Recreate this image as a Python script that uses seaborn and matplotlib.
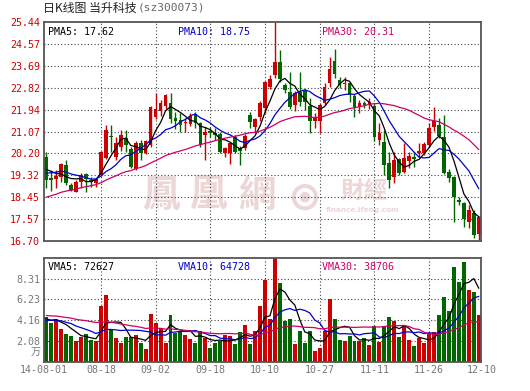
import numpy as np
import pandas as pd
import matplotlib
matplotlib.use("Agg")
import matplotlib.pyplot as plt
import matplotlib.patches as mpatches
import seaborn as sns

# daily candles 2014-08-01 .. 2014-12-10 (88 trading days)
open_ = [20.05, 19.20, 19.17, 19.24, 19.73, 18.94, 18.67, 19.07, 19.37, 19.13,
         19.00, 19.34, 20.00, 20.90, 20.07, 20.47, 20.80, 20.36, 19.56, 20.60,
         20.23, 20.53, 21.66, 21.90, 22.09, 22.22, 21.62, 21.53, 21.40, 21.37,
         21.73, 21.40, 20.93, 21.09, 21.03, 20.96, 20.23, 20.22, 20.86, 20.40,
         20.40, 21.73, 21.24, 21.66, 22.00, 22.86, 23.33, 23.86, 22.93, 22.66,
         22.13, 22.66, 22.72, 22.10, 21.49, 21.49, 22.19, 22.99, 23.88, 23.12,
         22.95, 22.99, 22.49, 22.06, 22.22, 22.13, 22.09, 20.73, 20.66, 19.80,
         19.24, 19.96, 19.47, 19.91, 20.04, 20.23, 20.23, 20.53, 21.24, 21.33,
         20.84, 19.47, 19.27, 18.34, 18.23, 17.47, 17.80, 16.98]
high = [20.26, 19.55, 19.52, 19.82, 19.95, 19.00, 19.12, 19.40, 19.42, 19.27,
        19.20, 20.30, 21.33, 21.33, 20.85, 21.13, 21.13, 20.45, 20.68, 20.73,
        20.75, 22.09, 22.62, 22.32, 22.56, 22.60, 21.86, 21.80, 21.60, 21.80,
        21.86, 21.43, 21.26, 21.26, 21.20, 21.06, 20.46, 20.66, 20.92, 20.50,
        20.98, 21.86, 21.62, 22.30, 23.10, 23.33, 25.44, 24.33, 23.00, 23.46,
        22.70, 23.46, 22.75, 22.39, 21.79, 22.19, 22.99, 24.05, 24.35, 23.26,
        23.26, 23.06, 22.55, 22.32, 22.30, 22.39, 22.15, 21.40, 21.13, 20.27,
        20.27, 20.00, 20.60, 20.27, 20.27, 20.60, 20.66, 21.40, 22.06, 21.60,
        21.73, 19.56, 19.30, 18.45, 18.25, 18.14, 17.94, 17.70]
low = [18.80, 18.70, 18.80, 19.05, 18.95, 18.68, 18.65, 18.82, 18.65, 18.86,
       18.85, 19.28, 19.98, 20.27, 19.95, 20.30, 20.27, 19.60, 19.54, 19.95,
       20.18, 20.45, 21.55, 21.70, 21.98, 21.40, 21.16, 21.06, 21.06, 21.30,
       21.20, 20.46, 19.93, 20.85, 20.75, 20.22, 20.07, 19.77, 20.20, 19.73,
       20.33, 21.20, 21.00, 21.50, 21.80, 22.75, 23.20, 23.05, 22.60, 21.95,
       21.90, 22.10, 21.92, 21.02, 21.20, 21.02, 22.13, 22.86, 23.20, 22.80,
       22.72, 22.26, 21.66, 21.79, 22.00, 21.95, 20.70, 20.53, 19.33, 18.80,
       19.02, 19.35, 19.40, 19.60, 19.66, 20.05, 20.15, 20.45, 21.10, 20.80,
       19.38, 19.06, 17.47, 18.15, 17.27, 17.20, 16.81, 16.74]
close = [19.13, 19.13, 19.30, 19.76, 19.03, 18.74, 19.07, 19.34, 19.17, 19.04,
         19.16, 20.27, 21.13, 20.84, 20.60, 20.93, 20.53, 19.67, 20.60, 20.20,
         20.70, 22.06, 21.95, 22.22, 22.53, 21.56, 21.50, 21.33, 21.46, 21.69,
         21.40, 20.53, 21.06, 21.00, 20.95, 20.27, 20.40, 20.60, 20.27, 20.30,
         20.90, 21.46, 21.56, 22.20, 23.06, 23.15, 23.86, 23.15, 22.73, 22.06,
         22.62, 22.26, 22.26, 21.49, 21.60, 22.13, 22.86, 23.55, 23.35, 22.92,
         23.02, 22.53, 22.06, 22.19, 22.13, 22.26, 20.86, 21.00, 19.73, 19.14,
         19.93, 19.43, 20.00, 20.10, 19.96, 20.30, 20.56, 21.20, 21.50, 20.89,
         19.43, 19.20, 18.47, 18.24, 17.56, 17.94, 16.94, 17.67]
# volume in 万
volume = [4.45, 3.86, 4.29, 3.23, 2.74, 2.54, 2.08, 2.44, 2.74, 2.14,
          2.08, 5.60, 6.69, 3.13, 2.34, 1.91, 2.44, 2.44, 2.64, 1.91,
          1.25, 4.78, 3.82, 3.36, 1.91, 4.68, 2.90, 2.97, 2.64, 2.24,
          1.91, 3.10, 2.37, 1.38, 1.85, 2.08, 2.64, 2.54, 1.78, 2.97,
          3.63, 1.81, 3.10, 5.54, 8.18, 4.29, 10.39, 7.91, 4.02, 4.22,
          1.75, 3.03, 1.88, 3.10, 1.06, 1.32, 3.03, 6.26, 4.22, 2.14,
          2.04, 2.57, 2.04, 2.04, 2.37, 1.65, 3.56, 1.98, 3.56, 4.45,
          4.02, 2.47, 3.56, 2.14, 1.58, 2.37, 1.91, 2.90, 2.97, 4.62,
          6.43, 5.11, 9.50, 7.98, 9.96, 7.12, 6.99, 4.62]

# estimated history before 08-01, only used to start the moving averages
pre_close = [17.40, 17.52, 17.45, 17.60, 17.68, 17.75, 17.70, 17.85, 17.92, 17.88,
             18.00, 18.05, 18.10, 18.18, 18.22, 18.30, 18.35, 18.42, 18.50, 18.58,
             18.95, 19.10, 19.30, 19.40, 19.50, 19.55, 19.70, 19.85, 19.57]
pre_vol = [5.2, 4.6, 5.5, 4.9, 4.3, 5.8, 4.7, 4.4, 5.1, 4.6,
           5.3, 4.8, 4.5, 5.0, 4.7, 4.9, 5.2, 4.4, 4.8, 4.7,
           3.6, 4.3, 3.9, 4.1, 3.85, 4.6, 4.0, 4.5, 3.9]

date_pos = [-0.5, 11, 22, 33, 44, 55, 66, 77, 87.5]
date_labels = ['14-08-01', '08-18', '09-02', '09-18', '10-10', '10-27', '11-11', '11-26', '12-10']
price_ticks = [16.70, 17.57, 18.45, 19.32, 20.20, 21.07, 21.94, 22.82, 23.69, 24.57, 25.44]
vol_ticks = [2.08, 4.16, 6.23, 8.31]
vol_top = 10.39
ma_windows = [5, 10, 30]
pma_text = ['PMA5: 17.62', 'PMA10: 18.75', 'PMA30: 20.31']
vma_text = ['VMA5: 72627', 'VMA10: 64728', 'VMA30: 38706']

RED = '#cc0000'
GREEN = '#006600'
MA_COLORS = ['#000000', '#0000cc', '#cc0066']
GRID = '#444444'
MONO = 'DejaVu Sans Mono'

sns.set_style('white')
plt.rcParams['font.family'] = ['DejaVu Sans Mono', 'Noto Sans CJK SC']

df = pd.DataFrame({'open': open_, 'high': high, 'low': low, 'close': close, 'vol': volume})
df['x'] = np.arange(len(df))
df['dir'] = np.where(df['close'] >= df['open'], 'up', 'down')
cols = np.where(df['dir'] == 'up', RED, GREEN)

W, H = 530, 391
fig = plt.figure(figsize=(W / 100, H / 100), dpi=100)
L, R = 43.7, 481.3
ax = fig.add_axes([L / W, 1 - 241 / H, (R - L) / W, (241 - 22) / H])
axv = fig.add_axes([L / W, 1 - 361.7 / H, (R - L) / W, (361.7 - 257.7) / H])

# watermark
wm = '#ecd6d6'
for xc, ch in zip([0.267, 0.376, 0.488], '鳳凰網'):
    ax.text(xc, 0.21, ch, transform=ax.transAxes, ha='center', va='center',
            fontsize=27, color=wm, family=['Noto Sans CJK TC'], fontweight='bold', zorder=0.5)
for r, fc in [(0.030, wm), (0.021, 'white'), (0.012, wm)]:
    ax.add_patch(mpatches.Ellipse((0.597, 0.20), 2 * r, 2 * r * (R - L) / 219, transform=ax.transAxes,
                                  facecolor=fc, edgecolor='none', zorder=0.5))
ax.text(0.732, 0.228, '財經', transform=ax.transAxes, ha='center', va='center',
        fontsize=17, color=wm, family=['Noto Sans CJK TC'], fontweight='bold', zorder=0.5)
ax.text(0.73, 0.142, 'finance.ifeng.com', transform=ax.transAxes, ha='center', va='center',
        fontsize=5.2, color=wm, family=['DejaVu Sans'], fontweight='bold', zorder=0.5)

# candles
body_lo = np.minimum(df['open'], df['close'])
body_h = np.maximum(np.abs(df['close'] - df['open']), 0.04)
ax.vlines(df['x'], df['low'], df['high'], colors=cols, lw=1, zorder=2)
ax.bar(df['x'], body_h, bottom=body_lo, width=0.74, color=cols, linewidth=0, zorder=2)

# moving averages
all_close = pd.Series(pre_close + close)
all_vol = pd.Series(pre_vol + volume)
n0 = len(pre_close)
for n, c in zip(ma_windows, MA_COLORS):
    pma = all_close.rolling(n).mean().iloc[n0:].to_numpy()
    vma = all_vol.rolling(n).mean().iloc[n0:].to_numpy()
    sns.lineplot(x=df['x'], y=pma, ax=ax, color=c, lw=0.9, zorder=3)
    sns.lineplot(x=df['x'], y=vma, ax=axv, color=c, lw=0.9, zorder=3)

# volume bars
sns.barplot(data=df, x='x', y='vol', hue='dir', palette={'up': RED, 'down': GREEN},
            dodge=False, legend=False, width=0.8, saturation=1, linewidth=0, ax=axv, zorder=2)

# axes styling
for a, ticks, lims in [(ax, price_ticks, (16.70, 25.44)), (axv, vol_ticks, (0, vol_top))]:
    a.set_xlim(-0.5, 87.5)
    a.set_ylim(*lims)
    a.set_xlabel('')
    a.set_ylabel('')
    for t in ticks:
        if lims[0] < t < lims[1]:
            a.axhline(t, color=GRID, lw=0.8, ls=(0, (1, 2)), zorder=1)
    for p in date_pos[1:-1]:
        a.axvline(p, color=GRID, lw=0.8, ls=(0, (1, 2)), zorder=1)
    for s in a.spines.values():
        s.set_visible(True)
        s.set_color('#555555')
        s.set_linewidth(1.3)
    a.tick_params(length=0, pad=2.5)

ax.set_yticks(price_ticks)
ax.set_yticklabels([f'{t:.2f}' for t in price_ticks], color=RED, fontsize=7.2, family=MONO)
ax.set_xticks([])

axv.set_yticks(vol_ticks)
axv.set_yticklabels([f'{t:.2f}' for t in vol_ticks], color='#777777', fontsize=7.2, family=MONO)
axv.set_xticks(date_pos)
axv.set_xticklabels(date_labels, color='#777777', fontsize=7.2, family=MONO)
fig.text(41 / W, 1 - 352 / H, '万', ha='right', va='center', fontsize=7.2,
         color='#777777', family=['Noto Sans CJK SC'])

# legends inside panels
for xp, t, c in zip([47.7, 177.7, 322.3], pma_text, MA_COLORS):
    fig.text(xp / W, 1 - 32 / H, t, ha='left', va='center', fontsize=7.2, color=c, family=MONO)
for xp, t, c in zip([47.7, 177.7, 322.3], vma_text, MA_COLORS):
    fig.text(xp / W, 1 - 267 / H, t, ha='left', va='center', fontsize=7.2, color=c, family=MONO)

# title
fig.text(43 / W, 1 - 8 / H, '日K线图 当升科技', ha='left', va='center', fontsize=8.6,
         color='#222222', family=['Noto Sans CJK SC'])
fig.text(138 / W, 1 - 8 / H, '(sz300073)', ha='left', va='center', fontsize=8,
         color='#666666', family=MONO)

fig.savefig('out.png', dpi=100)
